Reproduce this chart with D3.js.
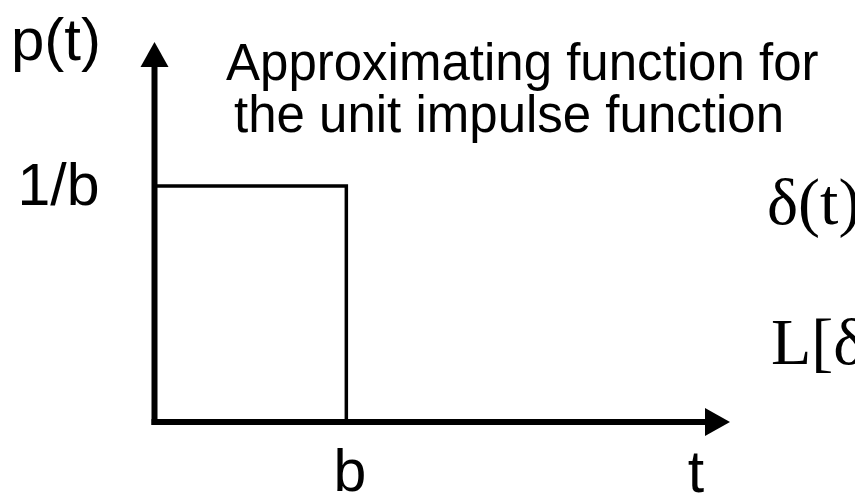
<!DOCTYPE html>
<html lang="en">
<head>
<meta charset="utf-8">
<script src="https://d3js.org/d3.v7.min.js"></script>
<style>
  body { margin: 0; background: #fff; }
  .sans { font-family: Arial, "Liberation Sans", sans-serif; fill: #000; }
  .serif { font-family: "Times New Roman", "Liberation Serif", serif; fill: #000; }
</style>
</head>
<body>
<script>
// pulse p(t) = 1/b on 0 < t < b (b taken as 1 unit)
var pulseT = [0, 0, 1, 1];
var pulseP = [0, 1, 1, 0];
var xTicks = [1];
var xTickLabels = ["b"];
var yTicks = [1];
var yTickLabels = ["1/b"];
var tMax = 3;
var pMax = 1.61;
var titleLines = ["Approximating function for", "the unit impulse function"];
var sideLines = ["\u03b4(t)", "L[\u03b4"];

var width = 855, height = 500;

var svg = d3.select("body").append("svg")
    .attr("width", width)
    .attr("height", height);

var x = d3.scaleLinear().domain([0, tMax]).range([154.5, 730]);
var y = d3.scaleLinear().domain([0, 1]).range([422, 186]);

// the pulse
var line = d3.line()
    .x(function(d) { return x(d[0]); })
    .y(function(d) { return y(d[1]); });

svg.append("path")
    .datum(d3.zip(pulseT, pulseP))
    .attr("d", line)
    .attr("fill", "none")
    .attr("stroke", "#000")
    .attr("stroke-width", 3.5);

// axis lines with arrow heads
var head = 25, half = 14;
svg.append("line")
    .attr("x1", x(0) - 3).attr("y1", y(0))
    .attr("x2", x(tMax) - head + 2).attr("y2", y(0))
    .attr("stroke", "#000").attr("stroke-width", 6);
svg.append("path")
    .attr("d", "M" + x(tMax) + "," + y(0) + "L" + (x(tMax) - head) + "," + (y(0) - half) + "L" + (x(tMax) - head) + "," + (y(0) + half) + "Z")
    .attr("fill", "#000");

svg.append("line")
    .attr("x1", x(0)).attr("y1", y(0) + 3)
    .attr("x2", x(0)).attr("y2", y(pMax) + head - 2)
    .attr("stroke", "#000").attr("stroke-width", 6);
svg.append("path")
    .attr("d", "M" + x(0) + "," + y(pMax) + "L" + (x(0) - half) + "," + (y(pMax) + head) + "L" + (x(0) + half) + "," + (y(pMax) + head) + "Z")
    .attr("fill", "#000");

// tick labels through d3 axes
var xAxis = svg.append("g")
    .attr("transform", "translate(0," + y(0) + ")")
    .call(d3.axisBottom(x).tickValues(xTicks).tickSize(0).tickPadding(27)
        .tickFormat(function(d, i) { return xTickLabels[i]; }));
xAxis.select(".domain").remove();
xAxis.selectAll("text").attr("class", "sans").attr("font-size", 59).attr("dx", 3);

var yAxis = svg.append("g")
    .attr("transform", "translate(" + x(0) + ",0)")
    .call(d3.axisLeft(y).tickValues(yTicks).tickSize(0).tickPadding(55)
        .tickFormat(function(d, i) { return yTickLabels[i]; }));
yAxis.select(".domain").remove();
yAxis.selectAll("text").attr("class", "sans").attr("font-size", 59);

// axis names
svg.append("text").attr("class", "sans")
    .attr("x", 11).attr("y", 60)
    .attr("font-size", 60)
    .text("p(t)");
svg.append("text").attr("class", "sans")
    .attr("x", 696).attr("y", 492)
    .attr("text-anchor", "middle")
    .attr("font-size", 59)
    .text("t");

// title
svg.selectAll(".title")
    .data(titleLines)
    .enter().append("text")
    .attr("class", "sans title")
    .attr("x", function(d, i) { return i === 0 ? 226 : 234; })
    .attr("y", function(d, i) { return 80 + i * 52; })
    .attr("font-size", 51)
    .text(function(d) { return d; });

// formulas running off the right edge
svg.selectAll(".side")
    .data(sideLines)
    .enter().append("text")
    .attr("class", "serif side")
    .attr("x", function(d, i) { return i === 0 ? 767 : 771; })
    .attr("y", function(d, i) { return i === 0 ? 224 : 364; })
    .attr("font-size", 66)
    .text(function(d) { return d; });
</script>
</body>
</html>
